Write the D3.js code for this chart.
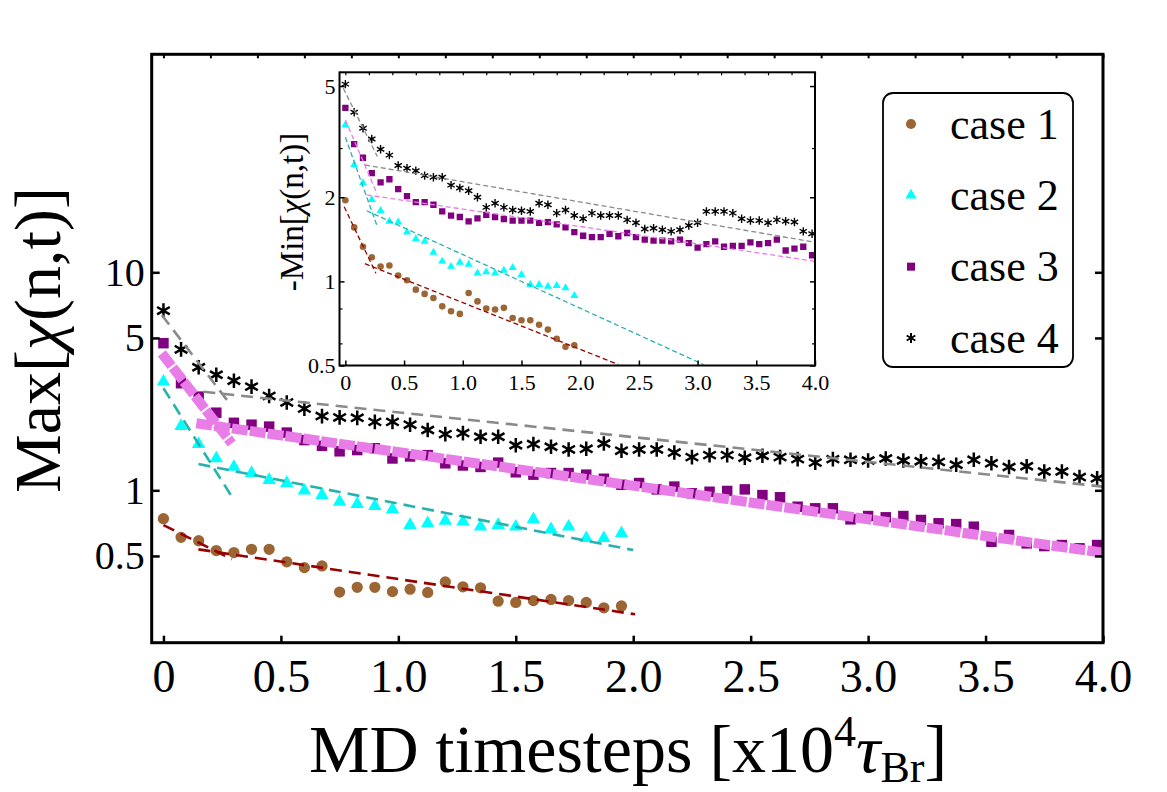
<!DOCTYPE html>
<html>
<head>
<meta charset="utf-8">
<script src="https://cdn.jsdelivr.net/npm/d3@7"></script>
<style>
  body { margin: 0; background: #fff; }
  svg text { font-family: "Liberation Serif", "Times New Roman", serif; fill: #000; }
</style>
</head>
<body>
<script>
// sampling times, x10^4 tau_Br
var times = [0, 0.075, 0.15, 0.225, 0.3, 0.375, 0.45, 0.525, 0.6, 0.675,
             0.75, 0.825, 0.9, 0.975, 1.05, 1.125, 1.2, 1.275, 1.35, 1.425,
             1.5, 1.575, 1.65, 1.725, 1.8, 1.875, 1.95, 2.025, 2.1, 2.175,
             2.25, 2.325, 2.4, 2.475, 2.55, 2.625, 2.7, 2.775, 2.85, 2.925,
             3.0, 3.075, 3.15, 3.225, 3.3, 3.375, 3.45, 3.525, 3.6, 3.675,
             3.75, 3.825, 3.9, 3.975];

// main panel: Max[chi(n,t)]
var maxCase1 = [0.741, 0.609, 0.587, 0.529, 0.518, 0.536, 0.536, 0.470, 0.442, 0.450,
                0.3415, 0.359, 0.359, 0.343, 0.352, 0.340, 0.380, 0.361, 0.357, 0.310,
                0.306, 0.312, 0.316, 0.312, 0.306, 0.289, 0.295];
var maxCase2 = [3.15, 1.97, 1.63, 1.40, 1.28, 1.20, 1.115, 1.08, 0.996, 0.951,
                0.886, 0.865, 0.847, 0.818, 0.693, 0.706, 0.725, 0.718, 0.681, 0.693,
                0.681, 0.736, 0.662, 0.681, 0.603, 0.603, 0.635];
var maxCase3 = [4.73, 3.10, 2.69, 2.27, 2.04, 2.00, 1.96, 1.84, 1.70, 1.60,
                1.51, 1.53, 1.56, 1.40, 1.43, 1.45, 1.33, 1.30, 1.28, 1.34,
                1.21, 1.18, 1.20, 1.20, 1.18, 1.13, 1.06, 1.08, 1.01, 1.04,
                0.969, 0.985, 0.993, 1.01, 0.951, 0.929, 0.841, 0.827, 0.827, 0.736,
                0.762, 0.752, 0.762, 0.731, 0.706, 0.70, 0.681, 0.581, 0.624, 0.571,
                0.555, 0.561, 0.542, 0.561];
var maxCase4 = [6.67, 4.43, 3.67, 3.39, 3.18, 2.99, 2.71, 2.53, 2.37, 2.19,
                2.16, 2.15, 2.06, 2.06, 2.00, 1.89, 1.81, 1.83, 1.76, 1.76,
                1.61, 1.63, 1.585, 1.54, 1.55, 1.64, 1.52, 1.54, 1.54, 1.49,
                1.42, 1.45, 1.45, 1.41, 1.44, 1.42, 1.39, 1.34, 1.39, 1.38,
                1.37, 1.40, 1.37, 1.36, 1.35, 1.31, 1.38, 1.33, 1.28, 1.29,
                1.22, 1.22, 1.15, 1.135];

// inset: -Min[chi(n,t)]
var minCase1 = [1.95, 1.56, 1.33, 1.22, 1.13, 1.14, 1.05, 1.01, 0.934, 0.902,
                0.872, 0.814, 0.782, 0.765, 0.909, 0.848, 0.799, 0.793, 0.804, 0.74,
                0.726, 0.726, 0.70, 0.672, 0.623, 0.583, 0.591];
var minCase2 = [3.63, 2.61, 2.25, 1.96, 1.79, 1.64, 1.63, 1.50, 1.42, 1.39,
                1.27, 1.18, 1.13, 1.17, 1.15, 1.07, 1.08, 1.07, 1.095, 1.12,
                1.056, 0.973, 0.973, 0.96, 0.965, 0.947, 0.889];
var minCase3 = [4.18, 3.10, 2.77, 2.44, 2.26, 2.32, 2.14, 2.02, 1.92, 1.92,
                1.88, 1.78, 1.72, 1.70, 1.64, 1.68, 1.73, 1.70, 1.67, 1.65,
                1.65, 1.65, 1.62, 1.63, 1.60, 1.56, 1.50, 1.456, 1.44, 1.44,
                1.48, 1.45, 1.49, 1.44, 1.41, 1.40, 1.40, 1.39, 1.41, 1.37,
                1.32, 1.36, 1.39, 1.33, 1.34, 1.34, 1.38, 1.36, 1.37, 1.41,
                1.29, 1.31, 1.33, 1.24];
var minCase4 = [5.08, 4.03, 3.53, 3.23, 2.97, 2.83, 2.60, 2.54, 2.49, 2.39,
                2.36, 2.36, 2.21, 2.16, 2.11, 2.00, 1.84, 1.905, 1.84, 1.80,
                1.79, 1.78, 1.905, 1.88, 1.755, 1.80, 1.72, 1.675, 1.755, 1.72,
                1.72, 1.72, 1.66, 1.62, 1.54, 1.55, 1.53, 1.51, 1.53, 1.585,
                1.62, 1.78, 1.78, 1.78, 1.755, 1.675, 1.65, 1.65, 1.62, 1.66,
                1.64, 1.63, 1.51, 1.48];

// exponential fits, each piece is [t0, value0, t1, value1]
var maxFit1 = [[0, 0.693, 0.291, 0.483], [0.149, 0.536, 2.008, 0.27]];
var maxFit2 = [[0, 2.94, 0.291, 0.935], [0.149, 1.32, 2.0, 0.532]];
var maxFit3 = [[-0.007, 4.25, 0.291, 1.64], [0.14, 2.03, 4.0, 0.517]];
var maxFit4 = [[-0.007, 6.37, 0.276, 2.55], [0.17, 2.83, 4.0, 1.04]];

var minFit1 = [[-0.01, 1.85, 0.26, 1.07], [0.166, 1.157, 2.325, 0.504]];
var minFit2 = [[0, 3.28, 0.272, 1.57], [0.181, 1.79, 3.05, 0.504]];
var minFit3 = [[0, 3.78, 0.272, 2.05], [0.181, 2.04, 4.0, 1.18]];
var minFit4 = [[-0.018, 4.91, 0.272, 2.80], [0.167, 2.61, 4.0, 1.38]];

var caseNames = ["case 1", "case 2", "case 3", "case 4"];
var xTicks = [0, 0.5, 1, 1.5, 2, 2.5, 3, 3.5, 4];
var xTopTicks = [0, 0.2, 0.4, 0.6, 0.8, 1, 1.2, 1.4, 1.6, 1.8, 2, 2.2, 2.4,
                 2.6, 2.8, 3, 3.2, 3.4, 3.6, 3.8, 4];
var yTicksMain = [0.5, 1, 5, 10];
var yTicksInset = [0.5, 1, 2, 5];
var yMinorInset = [0.6, 0.8, 3];

window.onload = function() {
  drawChart();
};

function xLabel(d) {
  return d === 0 ? "0" : d3.format(".1f")(d);
}

function drawChart() {
  var width = 1167;
  var height = 792;
  var svg = d3.select("body")
              .append("svg")
              .attr("width", width)
              .attr("height", height);

  // marker and line styles per case
  var markerColors = ["#9c6634", "#00ffff", "#800080", "#000000"];
  var markerTypes = [d3.symbolCircle, d3.symbolTriangle, d3.symbolSquare, d3.symbolAsterisk];
  var fitColors = ["#990000", "#26b3ae", "#e87de8", "#8a8a8a"];

  // ---------- main panel ----------
  var x = d3.scaleLinear().domain([-0.05, 4]).range([151.7, 1103]);
  var y = d3.scaleLog().domain([0.2, 100]).range([642.7, 54.3]);

  var mainSeries = [maxCase1, maxCase2, maxCase3, maxCase4];
  var mainFits = [maxFit1, maxFit2, maxFit3, maxFit4];
  var mainSizes = [100, 78, 110, 150];

  var main = svg.append("g");
  drawPoints(main, x, y, mainSeries, markerTypes, markerColors, mainSizes, 2.5);

  var lineWidths = [2.6, 2.6, 10, 2.6];
  var lineDash = ["12,7", "12,7", "16,2", "12,7"];
  mainFits.forEach(function(fit, k) {
    main.selectAll(null)
        .data(fit)
        .enter()
        .append("line")
        .attr("x1", function(d) { return x(d[0]); })
        .attr("y1", function(d) { return y(d[1]); })
        .attr("x2", function(d) { return x(d[2]); })
        .attr("y2", function(d) { return y(d[3]); })
        .attr("stroke", fitColors[k])
        .attr("stroke-width", lineWidths[k])
        .attr("stroke-dasharray", lineDash[k]);
  });

  // axes, ticks point inward
  svg.append("g")
     .attr("transform", "translate(0,642.7)")
     .call(d3.axisBottom(x).tickValues(xTicks).tickFormat(xLabel)
             .tickSizeInner(-7).tickSizeOuter(0).tickPadding(17))
     .call(styleAxis, 46, 2.5);
  svg.append("g")
     .attr("transform", "translate(0,54.3)")
     .call(d3.axisTop(x).tickValues(xTopTicks).tickFormat("")
             .tickSizeInner(-4).tickSizeOuter(0))
     .call(styleAxis, 46, 2);
  svg.append("g")
     .attr("transform", "translate(151.7,0)")
     .call(d3.axisLeft(y).tickValues(yTicksMain).tickFormat(function(d) { return String(d); })
             .tickSizeInner(-8).tickSizeOuter(0).tickPadding(7))
     .call(styleAxis, 40, 2.5);
  svg.append("g")
     .attr("transform", "translate(1103,0)")
     .call(d3.axisRight(y).tickValues(yTicksMain).tickFormat("")
             .tickSizeInner(-8).tickSizeOuter(0))
     .call(styleAxis, 40, 2.5);

  svg.append("rect")
     .attr("x", 151.7).attr("y", 54.3)
     .attr("width", 1103 - 151.7).attr("height", 642.7 - 54.3)
     .attr("fill", "none").attr("stroke", "#000").attr("stroke-width", 3);

  // axis titles
  var yt = svg.append("text")
              .attr("transform", "translate(60,340) rotate(-90)")
              .attr("text-anchor", "middle")
              .style("font-size", "66px");
  yt.append("tspan").text("Max[");
  yt.append("tspan").style("font-style", "italic").text("\u03c7");
  yt.append("tspan").text("(n,t)]");

  var xt = svg.append("text")
              .attr("x", 628).attr("y", 772)
              .attr("text-anchor", "middle")
              .style("font-size", "68px");
  xt.append("tspan").text("MD timesteps [x10");
  xt.append("tspan").attr("dy", -26).style("font-size", "44px").text("4");
  xt.append("tspan").attr("dy", 26).style("font-style", "italic").text("\u03c4");
  xt.append("tspan").attr("dy", 10).style("font-size", "44px").text("Br");
  xt.append("tspan").attr("dy", -10).text("]");

  // ---------- inset ----------
  var ix0 = 339.5, ix1 = 815, iy0 = 72.3, iy1 = 365.5;
  var xi = d3.scaleLinear().domain([-0.05, 4]).range([ix0, ix1]);
  var yi = d3.scaleLog().domain([0.5, 5.6]).range([iy1, iy0]);

  svg.append("rect")
     .attr("x", ix0).attr("y", iy0)
     .attr("width", ix1 - ix0).attr("height", iy1 - iy0)
     .attr("fill", "#fff");

  svg.append("clipPath").attr("id", "insetClip")
     .append("rect")
     .attr("x", ix0).attr("y", iy0)
     .attr("width", ix1 - ix0).attr("height", iy1 - iy0);

  var inset = svg.append("g").attr("clip-path", "url(#insetClip)");
  var insetSeries = [minCase1, minCase2, minCase3, minCase4];
  var insetFits = [minFit1, minFit2, minFit3, minFit4];
  drawPoints(inset, xi, yi, insetSeries, markerTypes, markerColors, [34, 28, 40, 50], 1.4);

  insetFits.forEach(function(fit, k) {
    inset.selectAll(null)
         .data(fit)
         .enter()
         .append("line")
         .attr("x1", function(d) { return xi(d[0]); })
         .attr("y1", function(d) { return yi(d[1]); })
         .attr("x2", function(d) { return xi(d[2]); })
         .attr("y2", function(d) { return yi(d[3]); })
         .attr("stroke", fitColors[k])
         .attr("stroke-width", 1.3)
         .attr("stroke-dasharray", "5,3");
  });

  svg.append("g")
     .attr("transform", "translate(0," + iy1 + ")")
     .call(d3.axisBottom(xi).tickValues(xTicks).tickFormat(xLabel)
             .tickSizeInner(-5).tickSizeOuter(0).tickPadding(9))
     .call(styleAxis, 22, 1.5);
  svg.append("g")
     .attr("transform", "translate(0," + iy0 + ")")
     .call(d3.axisTop(xi).tickValues(xTopTicks).tickFormat("")
             .tickSizeInner(-3).tickSizeOuter(0))
     .call(styleAxis, 22, 1.2);
  svg.append("g")
     .attr("transform", "translate(" + ix0 + ",0)")
     .call(d3.axisLeft(yi).tickValues(yTicksInset).tickFormat(function(d) { return String(d); })
             .tickSizeInner(-5).tickSizeOuter(0).tickPadding(4))
     .call(styleAxis, 22, 1.5);
  [ix0, ix1].forEach(function(px, side) {
    var ax = side === 0 ? d3.axisLeft(yi) : d3.axisRight(yi);
    svg.append("g")
       .attr("transform", "translate(" + px + ",0)")
       .call(ax.tickValues(yMinorInset).tickFormat("").tickSizeInner(-3).tickSizeOuter(0))
       .call(styleAxis, 22, 1.2);
  });
  svg.append("g")
     .attr("transform", "translate(" + ix1 + ",0)")
     .call(d3.axisRight(yi).tickValues(yTicksInset).tickFormat("")
             .tickSizeInner(-5).tickSizeOuter(0))
     .call(styleAxis, 22, 1.5);

  svg.append("rect")
     .attr("x", ix0).attr("y", iy0)
     .attr("width", ix1 - ix0).attr("height", iy1 - iy0)
     .attr("fill", "none").attr("stroke", "#000").attr("stroke-width", 2);

  var it = svg.append("text")
              .attr("transform", "translate(303,212) rotate(-90)")
              .attr("text-anchor", "middle")
              .style("font-size", "33px");
  it.append("tspan").text("-Min[");
  it.append("tspan").style("font-style", "italic").text("\u03c7");
  it.append("tspan").text("(n,t)]");

  // ---------- legend ----------
  var legend = svg.append("g");
  legend.append("rect")
        .attr("x", 883).attr("y", 93)
        .attr("width", 190).attr("height", 274)
        .attr("rx", 10)
        .attr("fill", "#fff").attr("stroke", "#000").attr("stroke-width", 1.8);

  var rowY = d3.scalePoint().domain(caseNames).range([124, 338]);
  var legendSizes = [80, 55, 64, 70];
  caseNames.forEach(function(name, k) {
    var sym = legend.append("path")
                    .attr("transform", "translate(911," + rowY(name) + ")")
                    .attr("d", d3.symbol().type(markerTypes[k]).size(legendSizes[k])());
    if (k === 3) {
      sym.attr("fill", "none").attr("stroke", "#000").attr("stroke-width", 2);
    } else {
      sym.attr("fill", markerColors[k]);
    }
    legend.append("text")
          .attr("x", 950).attr("y", rowY(name))
          .attr("dy", "0.33em")
          .style("font-size", "44px")
          .text(name);
  });
}

function drawPoints(g, x, y, series, types, colors, sizes, starWidth) {
  series.forEach(function(values, k) {
    var sym = d3.symbol().type(types[k]).size(sizes[k]);
    var marks = g.selectAll(null)
                 .data(values)
                 .enter()
                 .append("path")
                 .attr("transform", function(d, i) {
                   return "translate(" + x(times[i]) + "," + y(d) + ")";
                 })
                 .attr("d", sym);
    if (types[k] === d3.symbolAsterisk) {
      marks.attr("fill", "none").attr("stroke", colors[k]).attr("stroke-width", starWidth);
    } else {
      marks.attr("fill", colors[k]);
    }
  });
}

function styleAxis(g, fontSize, tickWidth) {
  g.select(".domain").remove();
  g.selectAll(".tick line").attr("stroke", "#000").attr("stroke-width", tickWidth);
  g.selectAll(".tick text")
   .attr("fill", "#000")
   .style("font-family", "'Liberation Serif', serif")
   .style("font-size", fontSize + "px");
}
</script>
</body>
</html>
